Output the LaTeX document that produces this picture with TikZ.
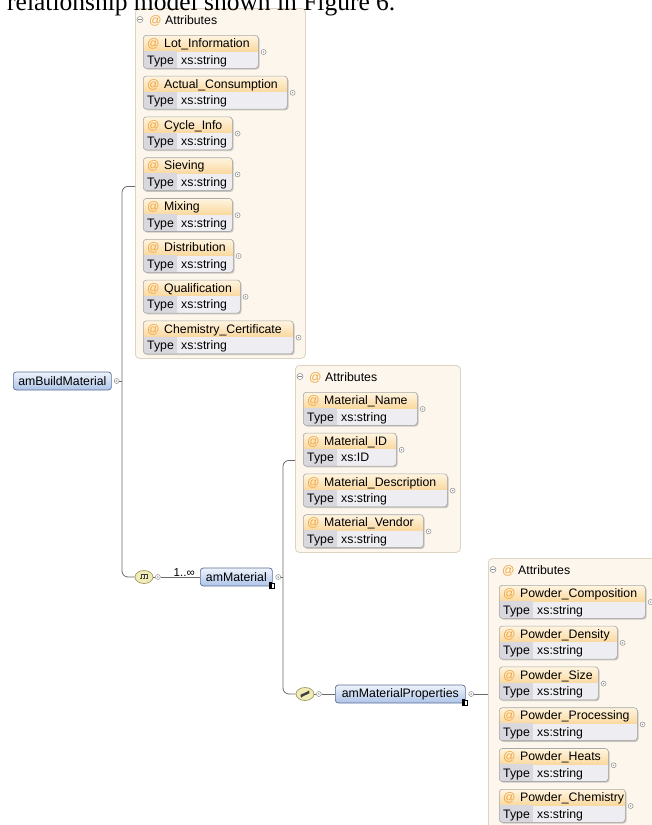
\documentclass[tikz,border=0pt]{standalone}
\usepackage{fontspec}
\setmainfont{Liberation Serif}
\newfontfamily\uifont{Liberation Sans}
\usetikzlibrary{calc,shapes.geometric}

\definecolor{boxfill}{HTML}{FCF6EC}
\definecolor{boxline}{HTML}{DDD3C3}
\definecolor{hdrtop}{HTML}{FFF5E2}
\definecolor{hdrbot}{HTML}{FAD9A0}
\definecolor{typekey}{HTML}{D8D8DE}
\definecolor{typeval}{HTML}{EEEEF2}
\definecolor{itemline}{HTML}{A8A8A8}
\definecolor{itemshadow}{HTML}{CBC7C0}
\definecolor{atsign}{HTML}{F2A640}
\definecolor{elemtop}{HTML}{EEF3FB}
\definecolor{elembot}{HTML}{AEC4E9}
\definecolor{elemline}{HTML}{5B6D92}
\definecolor{seqfill}{HTML}{F0ECB8}
\definecolor{seqline}{HTML}{A39B60}
\definecolor{wirecol}{HTML}{6A6A6A}
\definecolor{portline}{HTML}{8A8A8A}

\tikzset{
  ui/.style={font=\uifont\fontsize{12.3}{14}\selectfont},
  attrbox/.style={draw=boxline, fill=boxfill, rounded corners=4pt, inner sep=0pt,
    anchor=north west, line width=0.8pt},
  itembody/.style={anchor=north west, inner sep=0pt, minimum height=33pt,
    draw=itemline, rounded corners=3pt, line width=0.6pt},
  port/.style={circle, draw=portline, fill=white, minimum size=5pt, inner sep=0pt,
    line width=0.5pt,
    path picture={\fill[portline] (path picture bounding box.center) circle (0.8pt);}},
  collapse/.style={circle, draw=portline, fill=white, minimum size=6pt, inner sep=0pt,
    line width=0.5pt,
    path picture={\draw[portline, line width=0.6pt]
      ([xshift=-1.6pt]path picture bounding box.center) --
      ([xshift=1.6pt]path picture bounding box.center);}},
  elem/.style={ui, draw=elemline, top color=elemtop, bottom color=elembot,
    rounded corners=3pt, minimum height=18pt, inner xsep=4pt, inner ysep=0pt,
    line width=0.7pt, anchor=west},
  compositor/.style={ellipse, draw=seqline, fill=seqfill, minimum width=18pt,
    minimum height=13pt, inner sep=0pt, line width=0.7pt},
  wire/.style={draw=wirecol, line width=0.8pt},
  atmark/.style={ui, text=atsign, anchor=base west, inner sep=0pt},
  lbl/.style={ui, anchor=base west, inner sep=0pt},
  refmark/.style={draw=black, fill=white, minimum size=5pt, inner sep=0pt, line width=0.5pt,
    path picture={\fill[black] (path picture bounding box.south west) rectangle
      ([xshift=-2.5pt,yshift=2.5pt]path picture bounding box.north east);}},
}

% One attribute entry: #1 name, #2 x, #3 y, #4 width, #5 attribute, #6 type
\newcommand\xsdItem[6]{%
  \fill[itemshadow, rounded corners=3pt] (#2+1.5,#3+1.5) rectangle ++(#4,33);
  \begin{scope}
    \clip[rounded corners=3pt] (#2,#3) rectangle ++(#4,33);
    \fill[typeval] (#2,#3) rectangle ++(#4,33);
    \shade[top color=hdrtop, bottom color=hdrbot] (#2,#3) rectangle ++(#4,16);
    \fill[typekey] (#2,#3+16) rectangle ++(34,17);
  \end{scope}
  \node[itembody, minimum width=#4pt] (#1) at (#2,#3) {};
  \node[atmark] at (#2+4,#3+12.5) {@};
  \node[lbl] at (#2+21,#3+12.5) {#5};
  \node[lbl] at (#2+4,#3+29) {Type};
  \node[lbl] at (#2+38,#3+29) {#6};
  \node[port] (#1-p) at ($(#1.north east)+(5,17)$) {};
}

% Attribute group frame with its header line: #1 name, #2 x, #3 y, #4 width, #5 height
\newcommand\xsdGroup[5]{%
  \node[attrbox, minimum width=#4pt, minimum height=#5pt] (#1) at (#2,#3) {};
  \node[collapse] (#1-c) at (#2+5,#3+11.5) {};
  \node[atmark] at (#2+14,#3+16) {@};
  \node[lbl] at (#2+30,#3+16) {Attributes};
}

\begin{document}
\begin{tikzpicture}[x=1pt,y=-1pt]
\useasboundingbox (0,0) rectangle (652,825);
\clip (0,0) rectangle (652,825);

% ---- attributes of amBuildMaterial ----
\xsdGroup{grpA}{135}{8}{170}{350}
\xsdItem{lot}{143}{35}{115}{Lot\_Information}{xs:string}
\xsdItem{cons}{143}{75.8}{144}{Actual\_Consumption}{xs:string}
\xsdItem{cycle}{143}{116.6}{89}{Cycle\_Info}{xs:string}
\xsdItem{siev}{143}{157.4}{89}{Sieving}{xs:string}
\xsdItem{mix}{143}{198.2}{89}{Mixing}{xs:string}
\xsdItem{dist}{143}{239}{90}{Distribution}{xs:string}
\xsdItem{qual}{143}{279.8}{97}{Qualification}{xs:string}
\xsdItem{chem}{143}{320.6}{150}{Chemistry\_Certificate}{xs:string}

% ---- attributes of amMaterial ----
\xsdGroup{grpB}{295}{365}{165}{187}
\xsdItem{mname}{303}{392}{114}{Material\_Name}{xs:string}
\xsdItem{mid}{303}{432.8}{93}{Material\_ID}{xs:ID}
\xsdItem{mdesc}{303}{473.6}{144}{Material\_Description}{xs:string}
\xsdItem{mvend}{303}{514.4}{120}{Material\_Vendor}{xs:string}

% ---- attributes of amMaterialProperties ----
\xsdGroup{grpC}{488}{558}{200}{272}
\xsdItem{pcomp}{499}{585}{146}{Powder\_Composition}{xs:string}
\xsdItem{pdens}{499}{625.8}{118}{Powder\_Density}{xs:string}
\xsdItem{psize}{499}{666.6}{99}{Powder\_Size}{xs:string}
\xsdItem{pproc}{499}{707.4}{138}{Powder\_Processing}{xs:string}
\xsdItem{pheat}{499}{748.2}{109}{Powder\_Heats}{xs:string}
\xsdItem{pchem}{499}{789}{126}{Powder\_Chemistry}{xs:string}

% ---- elements ----
\node[elem, minimum width=98pt] (bm) at (13,381) {amBuildMaterial};
\node[port] (bm-p) at ($(bm.east)+(5,0)$) {};

\node[compositor] (seqA) at (144,577) {};
\draw[black!75, line width=0.6pt] (140.5,574.5) -- (147.5,574.5);
\foreach \dx in {-3,0,3} {
  \draw[black!75, line width=0.5pt] (144+\dx,574.5) -- (144+\dx,577.5);
  \fill[black!75] (143.2+\dx,577.5) rectangle (144.8+\dx,579.3);
}
\node[port] (seqA-p) at ($(seqA.east)+(4.5,0)$) {};

\node[elem, minimum width=72pt] (mat) at (200,577) {amMaterial};
\node[refmark] at ([xshift=-1pt,yshift=1pt]mat.south east) {};
\node[port] (mat-p) at ($(mat.east)+(5.5,0)$) {};

\node[compositor] (seqB) at (305,694) {};
\fill[black!75, rotate around={25:(305,694)}] (300.5,692.8) rectangle (309.5,695.2);
\fill[black!75] (301.5,696.5) circle (1pt) (308.5,691.5) circle (1pt);
\node[port] (seqB-p) at ($(seqB.east)+(4.5,0)$) {};

\node[elem, minimum width=130pt] (props) at (335,694) {amMaterialProperties};
\node[refmark] at ([xshift=-1pt,yshift=1pt]props.south east) {};
\node[port] (props-p) at ($(props.east)+(5.5,0)$) {};

% ---- connectors ----
\coordinate (trunkA) at ([xshift=-13pt,yshift=-3pt]grpA.west);
\draw[wire, rounded corners=6pt] ([yshift=-3pt]grpA.west) -- (trunkA) |- (seqA.west);
\draw[wire] (bm-p.east) -- (bm-p.east -| trunkA);
\draw[wire] (seqA.east) -- (seqA-p.west);
\draw[wire] (seqA-p.east) -- node[pos=0.6, above=0.5pt, inner sep=0pt, ui,
  font=\uifont\fontsize{11.5}{13}\selectfont] {1..∞} (mat.west);

\coordinate (trunkB) at ([xshift=-12pt,yshift=-1.5pt]grpB.west);
\draw[wire, rounded corners=6pt] ([yshift=-1.5pt]grpB.west) -- (trunkB) |- (seqB.west);
\draw[wire] (mat-p.east) -- (mat-p.east -| trunkB);
\draw[wire] (seqB.east) -- (seqB-p.west);
\draw[wire] (seqB-p.east) -- (props.west);
\draw[wire] (props-p.east) -- (props-p.east -| grpC.west);

% running text line above the schema, partly cut by the top edge
\node[anchor=base west, inner sep=0pt, font=\fontsize{25.5}{30}\selectfont]
  (caption) at (7,10) {relationship model shown in Figure 6.};
\end{tikzpicture}
\end{document}
